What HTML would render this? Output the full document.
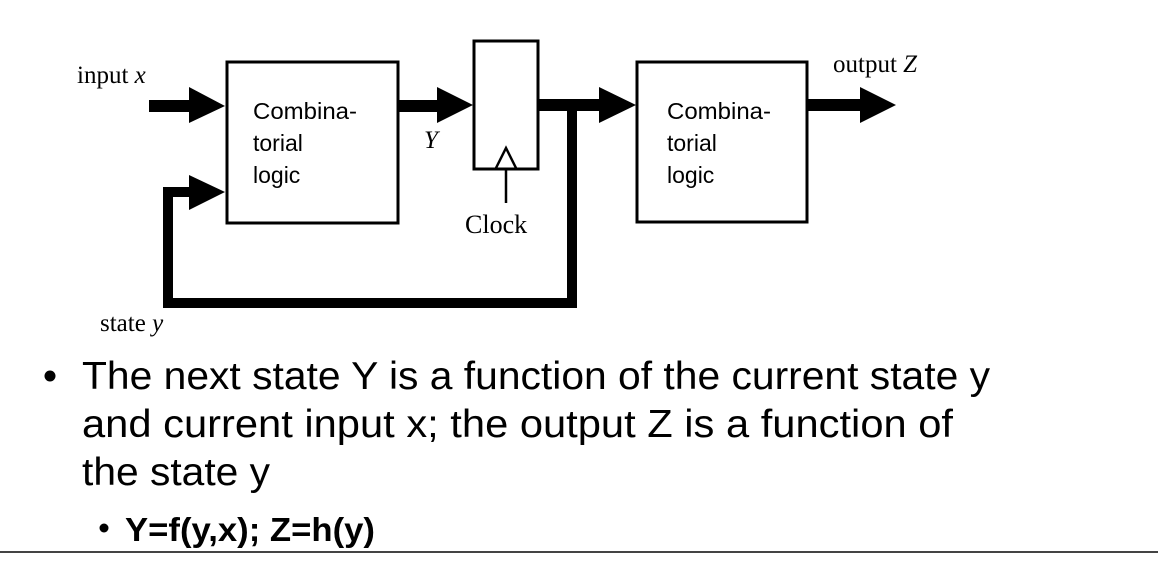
<!DOCTYPE html>
<html><head><style>html,body{margin:0;padding:0;background:#fff;width:1158px;height:562px;overflow:hidden}</style></head>
<body>
<svg width="1158" height="562" viewBox="0 0 1158 562" xmlns="http://www.w3.org/2000/svg">
<g fill="#000" stroke="none">
  <rect x="149" y="100" width="42" height="12"/>
  <polygon points="189,87 225,106 189,123"/>
  <rect x="163" y="187" width="10" height="121"/>
  <rect x="163" y="298" width="414" height="10"/>
  <rect x="567" y="100" width="10" height="208"/>
  <rect x="163" y="187" width="28" height="10"/>
  <polygon points="189,175 225,192 189,210"/>
  <rect x="399" y="100" width="40" height="12"/>
  <polygon points="437,87 473,105 437,123"/>
  <rect x="539" y="99" width="63" height="12"/>
  <polygon points="599,87 636,105 599,123"/>
  <rect x="808" y="99" width="54" height="12"/>
  <polygon points="860,87 896,105 860,123"/>
</g>
<g fill="none" stroke="#000" stroke-width="3">
  <rect x="227" y="62" width="171" height="161"/>
  <rect x="474" y="41" width="64" height="128"/>
  <rect x="637" y="62" width="170" height="160"/>
  <polyline points="496,168 506,148 516,168" stroke-width="2.5"/>
  <line x1="506" y1="169" x2="506" y2="203" stroke-width="2.5"/>
</g>
<g font-family="'Liberation Sans', sans-serif" font-size="23" fill="#000">
  <text x="253" y="119" textLength="104" lengthAdjust="spacingAndGlyphs">Combina-</text>
  <text x="253" y="151">torial</text>
  <text x="253" y="183">logic</text>
  <text x="667" y="119" textLength="104" lengthAdjust="spacingAndGlyphs">Combina-</text>
  <text x="667" y="151">torial</text>
  <text x="667" y="183">logic</text>
</g>
<g font-family="'Liberation Serif', serif" font-size="25" fill="#000">
  <text x="77" y="83">input <tspan font-style="italic">x</tspan></text>
  <text x="100" y="331">state <tspan font-style="italic">y</tspan></text>
  <text x="833" y="72">output <tspan font-style="italic">Z</tspan></text>
  <text x="424" y="148" font-style="italic">Y</text>
  <text x="465" y="233" font-size="26">Clock</text>
</g>
<g font-family="'Liberation Sans', sans-serif" fill="#000">
  <circle cx="50" cy="376" r="5.5"/>
  <text x="82" y="389" font-size="39" textLength="908" lengthAdjust="spacingAndGlyphs">The next state Y is a function of the current state y</text>
  <text x="82" y="437" font-size="39" textLength="871" lengthAdjust="spacingAndGlyphs">and current input x; the output Z is a function of</text>
  <text x="82" y="485" font-size="39" textLength="188" lengthAdjust="spacingAndGlyphs">the state y</text>
  <circle cx="104" cy="528" r="4.5"/>
  <text x="125" y="541" font-size="33" font-weight="bold" textLength="250" lengthAdjust="spacingAndGlyphs">Y=f(y,x); Z=h(y)</text>
</g>
<rect x="0" y="551" width="1158" height="2" fill="#444"/>
</svg>
</body></html>
